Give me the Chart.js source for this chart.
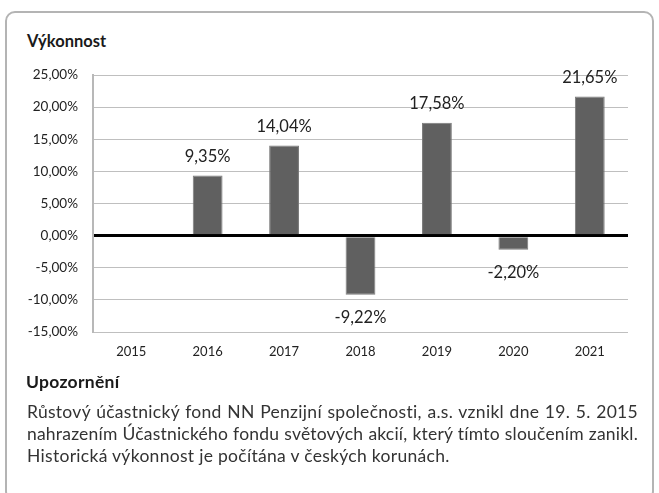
<!DOCTYPE html>
<html>
<head>
<meta charset="utf-8">
<script src="https://cdn.jsdelivr.net/npm/chart.js@4"></script>
<style>
  html, body { margin: 0; padding: 0; background: #fff; }
  body { width: 659px; height: 493px; position: relative; overflow: hidden; font-family: Lato, "Open Sans", sans-serif; }
  #box { position: absolute; left: 5px; top: 11px; width: 649px; height: 490px; border: 2px solid #b4b4b4; border-radius: 10px; box-sizing: border-box; }
  #title { position: absolute; left: 27px; top: 31px; font-size: 16.5px; font-weight: bold; color: #1a1a1a; }
  #note { position: absolute; left: 26px; top: 371px; font-size: 17.5px; font-weight: bold; color: #1a1a1a; letter-spacing: 0.3px; }
  #para { position: absolute; left: 27px; top: 401px; width: 611px; font-size: 17.5px; color: #333; line-height: 21.8px; letter-spacing: 0.3px; }
  #para div { text-align: justify; text-align-last: justify; white-space: nowrap; }
  #para div.l2 { letter-spacing: 0.2px; }
  #para div.last { text-align-last: left; }
  #wrap { position: absolute; left: 0; top: 0; width: 659px; height: 493px; }
</style>
</head>
<body>
<div id="box"></div>
<div id="title">Výkonnost</div>
<div id="wrap"><canvas id="c" width="659" height="493"></canvas></div>
<div id="note">Upozornění</div>
<div id="para">
  <div>Růstový účastnický fond NN Penzijní společnosti, a.s. vznikl dne 19. 5. 2015</div>
  <div class="l2">nahrazením Účastnického fondu světových akcií, který tímto sloučením zanikl.</div>
  <div class="last">Historická výkonnost je počítána v českých korunách.</div>
</div>
<script>
const years = ['2015', '2016', '2017', '2018', '2019', '2020', '2021'];
const performance = [null, 9.35, 14.04, -9.22, 17.58, -2.20, 21.65];
const yMin = -15, yMax = 25, yStep = 5;

function fmt(v) { return v.toFixed(2).replace('.', ',') + '%'; }

const labelPlugin = {
  id: 'valueLabels',
  afterDatasetsDraw(chart) {
    const ctx = chart.ctx;
    const meta = chart.getDatasetMeta(0);
    ctx.save();
    ctx.font = '16.5px Lato, sans-serif';
    ctx.fillStyle = '#222';
    ctx.textAlign = 'center';
    ctx.textBaseline = 'middle';
    meta.data.forEach((bar, i) => {
      const v = performance[i];
      if (v === null || v === undefined) return;
      const y = v >= 0 ? bar.y - 19 : bar.y + 23;
      ctx.fillText(fmt(v), bar.x, y);
    });
    ctx.restore();
  }
};

new Chart(document.getElementById('c'), {
  type: 'bar',
  data: {
    labels: years,
    datasets: [{
      data: performance,
      backgroundColor: '#606060',
      borderColor: '#7a7a7a',
      borderWidth: 1,
      categoryPercentage: 1,
      barPercentage: 0.39
    }]
  },
  options: {
    responsive: false,
    animation: false,
    events: [],
    layout: { padding: { left: 0, right: 31, top: 75, bottom: 131 } },
    plugins: { legend: { display: false }, tooltip: { enabled: false } },
    scales: {
      x: {
        grid: { display: false, drawTicks: false },
        border: { display: false },
        ticks: { color: '#222', font: { family: 'Lato', size: 13 }, padding: 12 },
        afterFit(s) { s.height = 30; }
      },
      y: {
        min: yMin, max: yMax,
        ticks: { stepSize: yStep, color: '#222', font: { family: 'Lato', size: 13.5 }, padding: 15, callback: v => fmt(v) },
        grid: {
          drawTicks: false,
          color: c => c.tick && c.tick.value === 0 ? '#000' : '#bfbfbf',
          lineWidth: c => c.tick && c.tick.value === 0 ? 3 : 1
        },
        border: { display: true, color: '#b8b8b8', width: 2 },
        afterFit(s) { s.width = 93; }
      }
    }
  },
  plugins: [labelPlugin]
});
</script>
</body>
</html>
